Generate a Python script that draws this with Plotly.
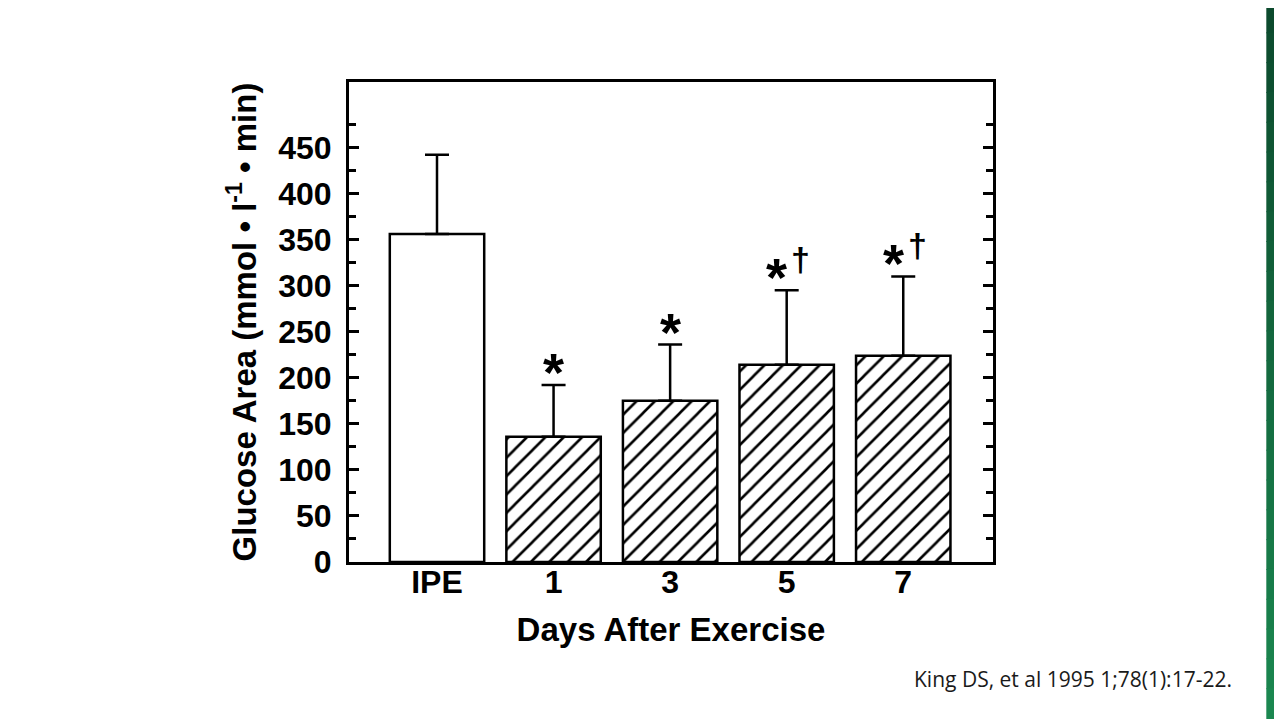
import plotly.graph_objects as go

# values (King DS et al. 1995)
days = ["IPE", "1", "3", "5", "7"]
glucose_area = [356, 136, 175, 214, 224]
glucose_sd = [86, 56, 61, 81, 86]
star_marks = ["", "*", "*", "*", "*"]
dagger_marks = ["", "", "", "†", "†"]
y_ticks = [0, 50, 100, 150, 200, 250, 300, 350, 400, 450]

# how the page places the figure in the screenshot (measured)
AX, AY, S = 4.0, 5.6, 1.006
W, H = 1274, 712


def fx(p):
    return (p - AX) / S


def fy(p):
    return (p - AY) / S


# plot frame, in figure pixels
L, R, T, B = fx(347), fx(995), fy(80), fy(563)


def px_x(p):
    return (fx(p) - L) / (R - L)


def px_y(p):
    return (B - fy(p)) / (B - T)


FONT = "Liberation Sans, Arial, sans-serif"

fig = go.Figure()

fig.add_trace(go.Bar(
    x=days,
    y=glucose_area,
    width=0.81,
    marker=dict(
        color="white",
        line=dict(color="black", width=2.5),
        pattern=dict(
            shape=[""] + ["/"] * (len(days) - 1),
            fgcolor="black",
            fgopacity=1,
            bgcolor="white",
            fillmode="replace",
            size=13,
            solidity=0.2,
        ),
    ),
    error_y=dict(
        type="data",
        symmetric=False,
        array=glucose_sd,
        arrayminus=[0] * len(days),
        color="black",
        thickness=2.5,
        width=12,
    ),
    showlegend=False,
))

# significance marks above the error bars
for i in range(len(days)):
    top = glucose_area[i] + glucose_sd[i]
    if star_marks[i]:
        fig.add_annotation(
            x=i, y=top, text=star_marks[i],
            showarrow=False, xshift=-10 if dagger_marks[i] else 0,
            yshift=-19, yanchor="bottom",
            font=dict(family=FONT, size=54, color="black", weight="bold"),
        )
    if dagger_marks[i]:
        fig.add_annotation(
            x=i, y=top, text=dagger_marks[i],
            showarrow=False, xshift=14, yshift=10, yanchor="bottom",
            font=dict(family=FONT, size=34, color="black", weight="bold"),
        )

# slide frame: green strip on the right with a vertical gradient
shapes = []
n = 24
top_c = (12, 74, 45)
bot_c = (27, 135, 80)
for k in range(n):
    f = k / (n - 1)
    c = tuple(int(round(top_c[j] + (bot_c[j] - top_c[j]) * f)) for j in range(3))
    y0 = k * 720 / n
    y1 = (k + 1) * 720 / n + 1
    shapes.append(dict(
        type="rect", xref="paper", yref="paper",
        x0=px_x(1270), x1=px_x(1300), y0=px_y(y1), y1=px_y(y0),
        fillcolor="rgb(%d,%d,%d)" % c, line_width=0, layer="below",
    ))
fig.update_layout(shapes=shapes)

fig.add_annotation(
    xref="paper", yref="paper", x=px_x(1237), y=px_y(681),
    xanchor="right", yanchor="middle", showarrow=False,
    text="King DS, et al 1995 1;78(1):17-22.",
    font=dict(family="Open Sans, sans-serif", size=21, color="#1a1a1a"),
)

fig.update_xaxes(
    type="category",
    range=[-0.755, 4.77],
    showline=True, linecolor="black", linewidth=3, mirror=True,
    ticks="", showgrid=False, zeroline=False,
    ticklabelstandoff=-10,
    tickfont=dict(family=FONT, size=32, color="black", weight="bold"),
    title=dict(text="Days After Exercise", standoff=19,
               font=dict(family=FONT, size=33, color="black", weight="bold")),
)
fig.update_yaxes(
    range=[0, 521],
    tickvals=y_ticks,
    showline=True, linecolor="black", linewidth=3, mirror="allticks",
    ticks="inside", ticklen=10, tickwidth=2.5, tickcolor="black",
    minor=dict(tickvals=[v + 25 for v in y_ticks], ticks="inside",
               ticklen=7, tickwidth=2.5, tickcolor="black"),
    ticklabelstandoff=8,
    showgrid=False, zeroline=False,
    tickfont=dict(family=FONT, size=32, color="black", weight="bold"),
    title=dict(text="Glucose Area (mmol • l<sup>-1</sup> • min)", standoff=12,
               font=dict(family=FONT, size=33, color="black", weight="bold")),
)

fig.update_layout(
    width=W, height=H,
    margin=dict(l=L, r=W - R, t=T, b=H - B),
    paper_bgcolor="white",
    plot_bgcolor="white",
)

fig.write_html("out.html")
